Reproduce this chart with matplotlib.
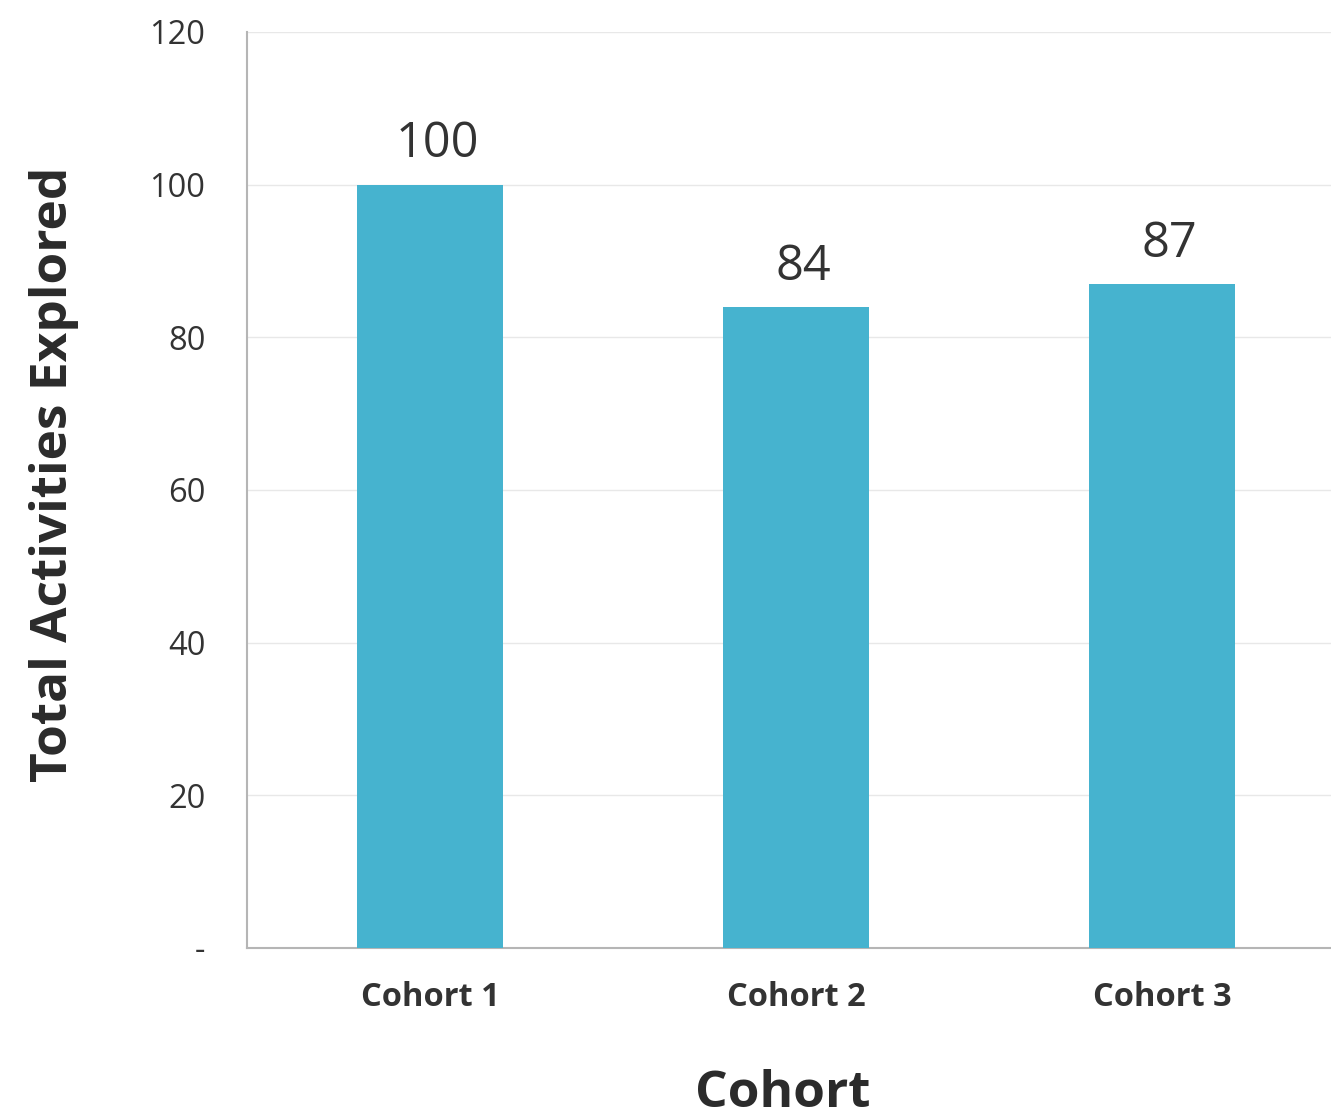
import matplotlib
matplotlib.use("Agg")
import matplotlib.pyplot as plt

categories = ["Cohort 1", "Cohort 2", "Cohort 3"]
values = [100, 84, 87]
yticks = [0, 20, 40, 60, 80, 100, 120]
ytick_labels = ["-", "20", "40", "60", "80", "100", "120"]

W, H, DPI = 1331, 1120, 100
fig = plt.figure(figsize=(W / DPI, H / DPI), dpi=DPI)
left, right, top, bottom = 247, 1345, 32, 948
ax = fig.add_axes([left / W, 1 - bottom / H, (right - left) / W, (bottom - top) / H])

x = list(range(len(categories)))
bars = ax.bar(x, values, width=0.4, color="#46b3cf", zorder=3)
ax.set_xlim(-0.5, len(categories) - 0.5)
ax.set_ylim(0, 120)
ax.set_yticks(yticks)
ax.set_yticklabels(ytick_labels, fontsize=23.5, family="Open Sans", color="#333333")
ax.set_xticks(x)
ax.set_xticklabels(categories, fontsize=23.5, family="Open Sans", fontweight="bold", color="#333333")
ax.tick_params(axis="both", length=0)
ax.tick_params(axis="y", pad=30)
ax.tick_params(axis="x", pad=24)
ax.grid(axis="y", color="#e8e8e8", linewidth=1, zorder=0)
for s in ["top", "right"]:
    ax.spines[s].set_visible(False)
for s in ["left", "bottom"]:
    ax.spines[s].set_color("#b5b5b5")
    ax.spines[s].set_linewidth(1.5)

for xi, v in zip(x, values):
    ax.annotate(str(v), (xi, v), xytext=(5, 11), textcoords="offset points",
                ha="center", va="bottom", fontsize=35, family="Open Sans", color="#333333")

fig.text(54 / W, 1 - 474 / H, "Total Activities Explored", rotation=90, ha="center", va="center",
         fontsize=37, fontweight="bold", family="Open Sans", color="#2b2b2b")
fig.text(783 / W, 1 - 1094 / H, "Cohort", ha="center", va="center",
         fontsize=37, fontweight="bold", family="Open Sans", color="#2b2b2b")

fig.savefig("out.png", dpi=DPI)
